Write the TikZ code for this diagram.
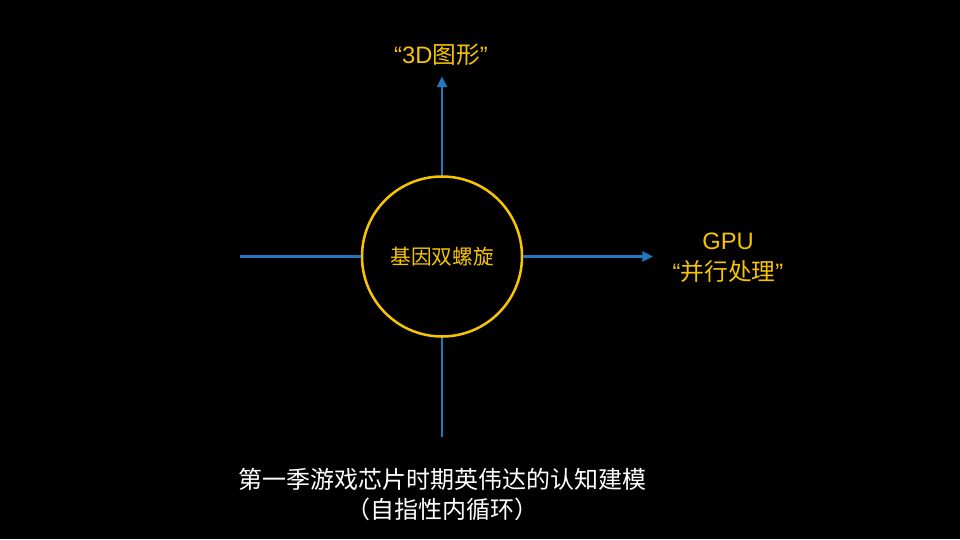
\documentclass[tikz,border=0pt]{standalone}
\usepackage{fontspec}
\setmainfont{Liberation Sans}
\newfontfamily\cjk{Noto Sans CJK SC}
\newfontfamily\lat{Liberation Sans}
\usetikzlibrary{arrows.meta}
\definecolor{gold}{RGB}{246,196,0}
\definecolor{axisblue}{RGB}{32,120,192}
\tikzset{
  axis/.style={draw=axisblue, line width=1.7pt},
  axisarrow/.style={axis, -{Triangle[length=8pt,width=7.5pt]}},
  hub/.style={circle, draw=gold, line width=1.9pt, minimum size=120pt, inner sep=0pt, text=gold, font=\cjk\fontsize{15.5}{18}\selectfont},
  label/.style={text=gold, align=center, font=\fontsize{17.8}{23.2}\selectfont},
  caption/.style={text=white, align=center, font=\cjk\fontsize{18}{21}\selectfont}
}
\begin{document}
\begin{tikzpicture}[x=0.75pt,y=-0.75pt]
\fill[black] (0,0) rectangle (960,539);
\useasboundingbox (0,0) rectangle (960,539);
\node[hub] (c) at (442,256.5) {基因双螺旋};
\coordinate (l) at (240,256.5);
\coordinate (d) at (442,437);
\coordinate (u) at (442,76.5);
\coordinate (r) at (653,256.5);
\draw[axis] (l) -- (c.west);
\draw[axis] (c.south) -- (d);
\draw[axisarrow] (c.north) -- (u);
\draw[axisarrow] (c.east) -- (r);
\node[label] (ut) at (441,55) {\lat “3D\cjk 图形\lat ”};
\node[label, anchor=center] (rt) at (728,258) {\lat GPU\\\lat “\cjk 并行处理\lat ”};
\node[caption] (bt) at (442,494.5) {第一季游戏芯片时期英伟达的认知建模\\[2pt]（自指性内循环）};
\end{tikzpicture}
\end{document}
